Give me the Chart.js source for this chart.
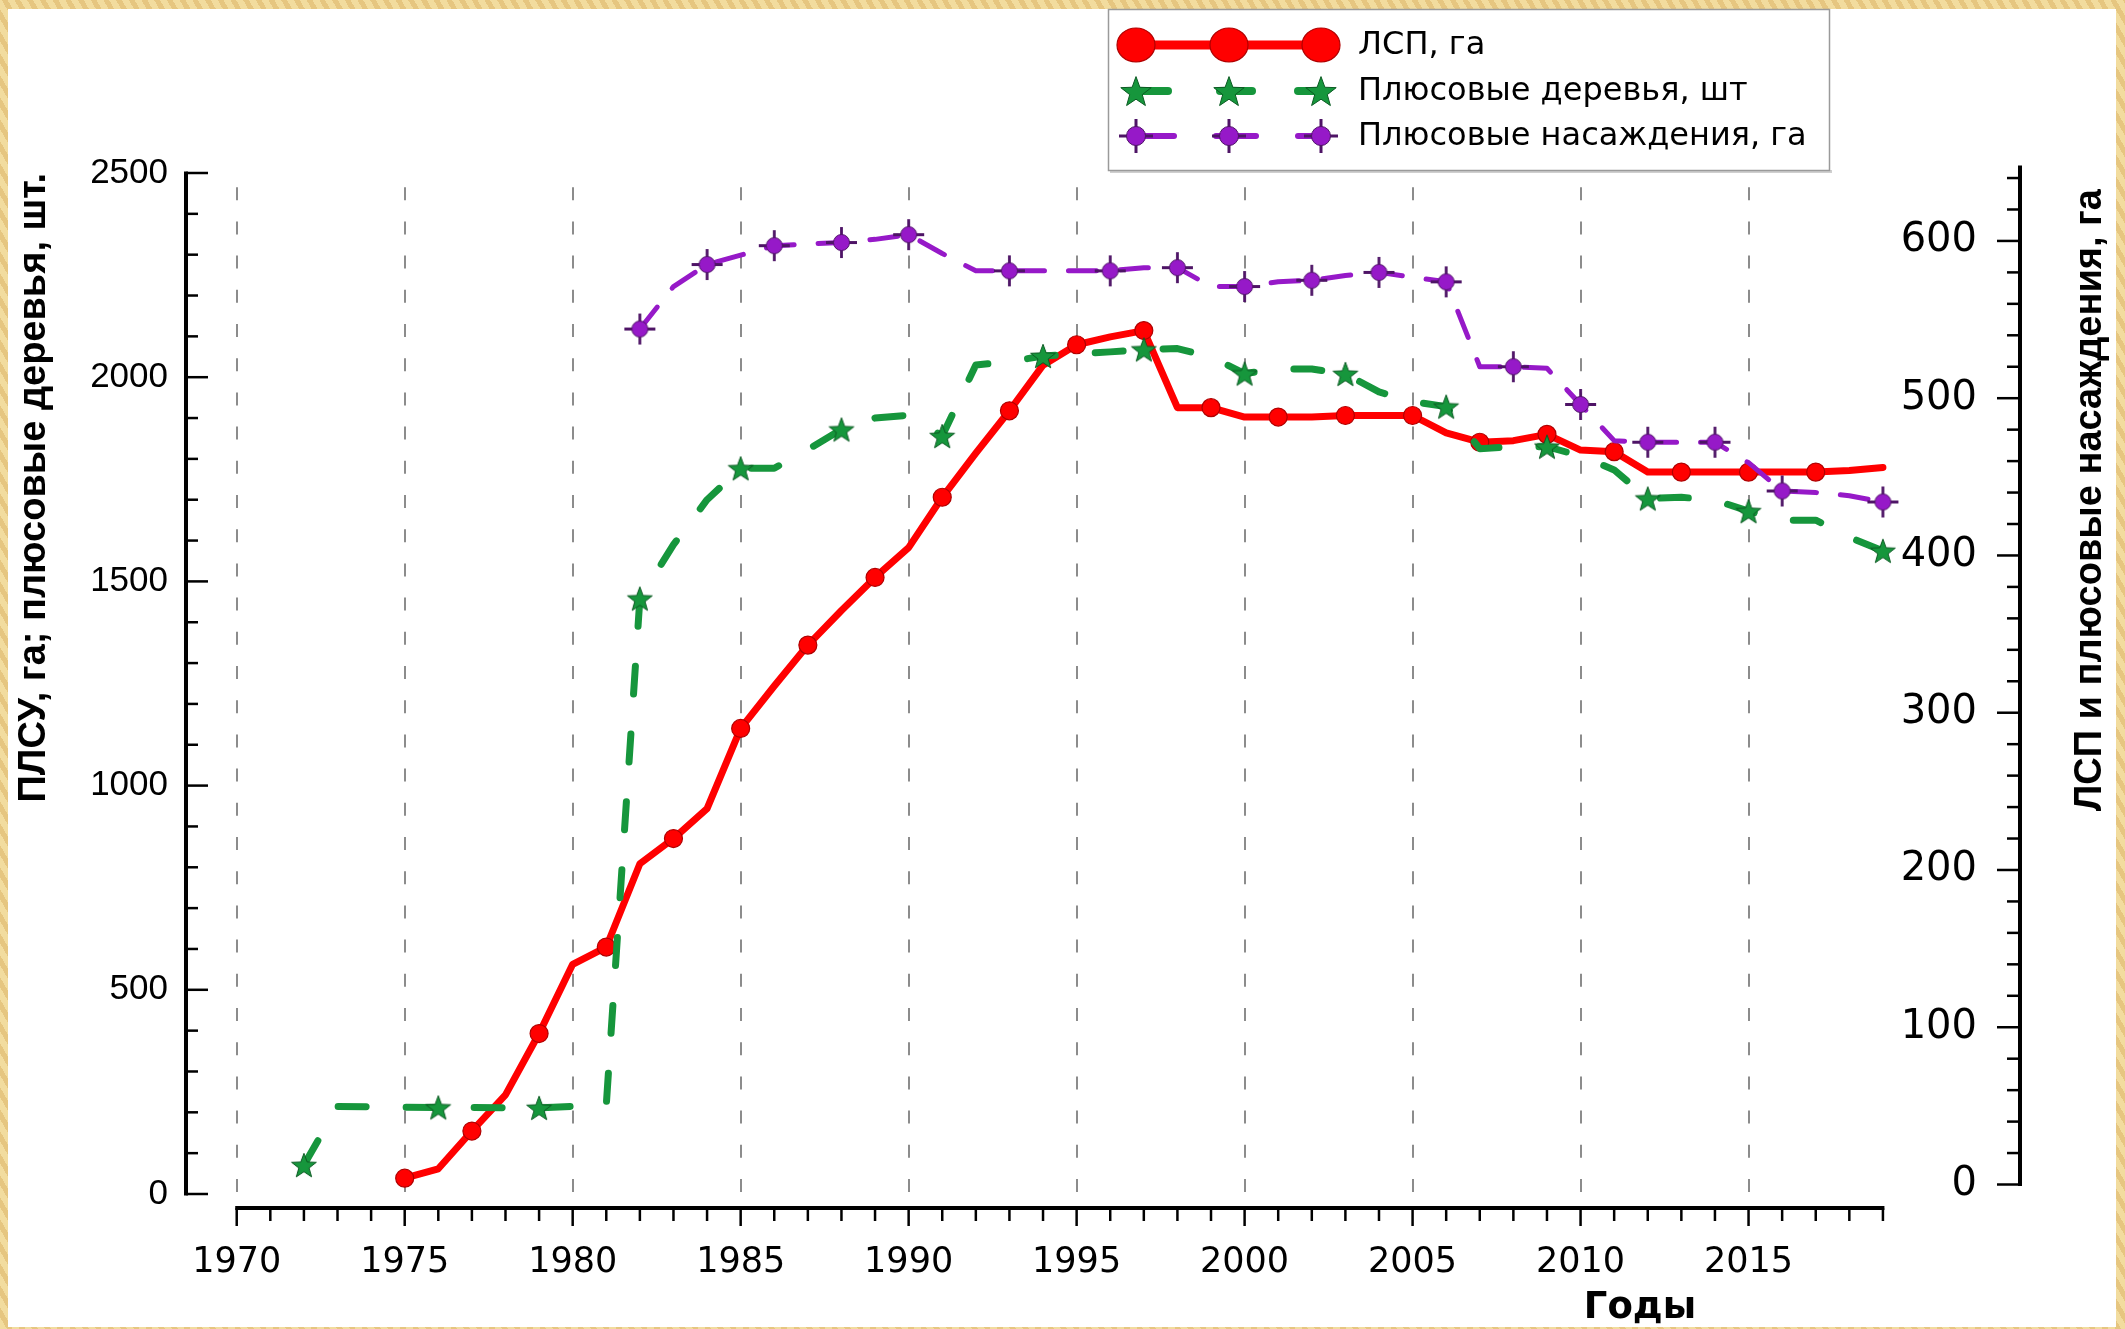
<!DOCTYPE html>
<html>
<head>
<meta charset="utf-8">
<script src="https://cdn.jsdelivr.net/npm/chart.js@4.4.1/dist/chart.umd.min.js"></script>
<style>
html,body{margin:0;padding:0;width:2125px;height:1329px;overflow:hidden;}
body{background:repeating-linear-gradient(60deg,#F2DC9E 0px,#F2DC9E 6px,#E6C680 6px,#E6C680 11px);}
#panel{position:absolute;left:8px;top:9px;width:2108px;height:1318px;background:#ffffff;}
#wrap{position:absolute;left:0;top:0;width:2125px;height:1329px;}
canvas{display:block;}
</style>
</head>
<body>
<div id="panel"></div>
<div id="wrap"><canvas id="c" width="2125" height="1329"></canvas></div>
<script>
// ---------------- DATA ----------------
const seriesNames = ['ЛСП, га', 'Плюсовые деревья, шт', 'Плюсовые насаждения, га'];
const leftTitle = 'ПЛСУ, га; плюсовые деревья, шт.';
const rightTitle = 'ЛСП и плюсовые насаждения, га';
const xTitle = 'Годы';

const xTickYears = [1970, 1975, 1980, 1985, 1990, 1995, 2000, 2005, 2010, 2015];
const leftTicks = [0, 500, 1000, 1500, 2000, 2500];
const rightTicks = [0, 100, 200, 300, 400, 500, 600];

// ЛСП, га (right axis)
const redYears = [1975,1976,1977,1978,1979,1980,1981,1982,1983,1984,1985,1986,1987,1988,1989,1990,1991,1992,1993,1994,1995,1996,1997,1998,1999,2000,2001,2002,2003,2004,2005,2006,2007,2008,2009,2010,2011,2012,2013,2014,2015,2016,2017,2018,2019];
const redValues = [4,10,34,57,96,140,151,204,220,239,290,317,343,365,386,405,437,465,492,521,534,539,543,494,494,488,488,488,489,489,489,478,472,473,477,467,466,453,453,453,453,453,453,454,456];
const redMarkerYears = [1975,1977,1979,1981,1983,1985,1987,1989,1991,1993,1995,1997,1999,2001,2003,2005,2007,2009,2011,2013,2015,2017];

// Плюсовые деревья, шт (left axis)
const greenYears = [1972,1973,1976,1979,1981,1982,1983,1984,1985,1986,1987,1988,1989,1990,1991,1992,1993,1994,1995,1996,1997,1998,1999,2000,2001,2002,2003,2004,2005,2006,2007,2008,2009,2010,2011,2012,2013,2014,2015,2016,2017,2018,2019];
const greenValues = [71,214,212,211,218,1458,1590,1700,1777,1777,1823,1872,1900,1907,1856,2030,2038,2052,2057,2062,2068,2070,2050,2009,2020,2020,2008,1964,1940,1928,1825,1830,1830,1807,1773,1703,1706,1699,1672,1650,1650,1608,1575];
const greenMarkerYears = [1972,1976,1979,1982,1985,1988,1991,1994,1997,2000,2003,2006,2009,2012,2015,2019];

// Плюсовые насаждения, га (right axis)
const purpleYears = [1982,1983,1984,1985,1986,1987,1988,1989,1990,1991,1992,1993,1994,1995,1996,1997,1998,1999,2000,2001,2002,2003,2004,2005,2006,2007,2008,2009,2010,2011,2012,2013,2014,2015,2016,2017,2018,2019];
const purpleValues = [544,571,585,591,597,598,599,601,604,592,581,581,581,581,581,583,583,571,571,574,575,578,580,577,574,520,520,519,496,473,472,472,472,459,441,440,438,434];
const purpleMarkerYears = [1982,1984,1986,1988,1990,1993,1996,1998,2000,2002,2004,2006,2008,2010,2012,2014,2016,2019];

// ---------------- STYLE ----------------
const RED = '#FF0000', RED_DARK = '#B00000';
const GREEN = '#16963C', GREEN_DARK = '#0B5A22';
const PURPLE = '#9619C8', PURPLE_DARK = '#4E1466';

function makeStar(R, r, fill, stroke) {
  const s = Math.ceil(R * 2 + 4);
  const c = document.createElement('canvas');
  c.width = s; c.height = s;
  const g = c.getContext('2d');
  g.translate(s / 2, s / 2 + R * 0.1);
  g.beginPath();
  for (let i = 0; i < 10; i++) {
    const a = -Math.PI / 2 + i * Math.PI / 5;
    const rr = (i % 2) ? r : R;
    g.lineTo(rr * Math.cos(a), rr * Math.sin(a));
  }
  g.closePath();
  g.fillStyle = fill; g.fill();
  g.lineWidth = 1; g.strokeStyle = stroke; g.stroke();
  return c;
}
function makeCrossDot(rc, arm, lw, fill, stroke) {
  const s = Math.ceil(arm * 2 + 4);
  const c = document.createElement('canvas');
  c.width = s; c.height = s;
  const g = c.getContext('2d');
  g.translate(s / 2, s / 2);
  g.strokeStyle = stroke; g.lineWidth = lw;
  g.beginPath(); g.moveTo(-arm, 0); g.lineTo(arm, 0); g.moveTo(0, -arm); g.lineTo(0, arm); g.stroke();
  g.beginPath(); g.arc(0, 0, rc, 0, Math.PI * 2);
  g.fillStyle = fill; g.fill();
  g.lineWidth = 1; g.strokeStyle = stroke; g.stroke();
  return c;
}
const starImg = makeStar(13, 5.4, GREEN, GREEN_DARK);
const crossImg = makeCrossDot(8, 15.5, 2.8, PURPLE, PURPLE_DARK);

function markerRadius(list, r) {
  return (ctx) => (ctx.raw && list.includes(ctx.raw.x)) ? r : 0;
}

const redPts = redYears.map((y, i) => ({x: y, y: redValues[i]}));
const greenPts = greenYears.map((y, i) => ({x: y, y: greenValues[i]}));
const purplePts = purpleYears.map((y, i) => ({x: y, y: purpleValues[i]}));

// ---------------- PLUGINS ----------------
const originAxes = {
  id: 'originAxes',
  afterDraw(chart) {
    const {ctx, chartArea: a, scales} = chart;
    const x = scales.x, yL = scales.yL, yR = scales.yR;
    const L = (x1, y1, x2, y2) => { ctx.beginPath(); ctx.moveTo(x1, y1); ctx.lineTo(x2, y2); ctx.stroke(); };
    ctx.save();
    ctx.strokeStyle = '#000';
    ctx.lineCap = 'butt';
    // left axis
    const lx = a.left - 1;
    ctx.lineWidth = 4;
    L(lx, yL.getPixelForValue(2500) - 1.5, lx, yL.getPixelForValue(0) + 1.5);
    ctx.lineWidth = 2.5;
    for (let v = 0; v <= 2500; v += 100) {
      const py = yL.getPixelForValue(v);
      L(lx, py, lx + (v % 500 === 0 ? 22 : 12), py);
    }
    // right axis
    const rx = a.right;
    ctx.lineWidth = 4;
    L(rx, yR.getPixelForValue(648), rx, yR.getPixelForValue(0) + 1.5);
    ctx.lineWidth = 2.5;
    for (let v = 0; v <= 640; v += 20) {
      const py = yR.getPixelForValue(v);
      L(rx, py, rx - (v % 100 === 0 ? 23 : 13), py);
    }
    // x axis
    const by = a.bottom + 14;
    ctx.lineWidth = 4;
    L(x.getPixelForValue(1970) - 1.5, by, x.getPixelForValue(2019) + 1.5, by);
    ctx.lineWidth = 2.5;
    for (let yr = 1970; yr <= 2019; yr++) {
      const px = x.getPixelForValue(yr);
      L(px, by, px, by + (yr % 5 === 0 ? 18 : 13));
    }
    // right title (reads bottom-to-top)
    ctx.fillStyle = '#000';
    ctx.save();
    ctx.translate(2091, 189);
    ctx.rotate(-Math.PI / 2);
    ctx.textAlign = 'right';
    ctx.textBaseline = 'middle';
    ctx.font = 'bold 38px "Liberation Sans", Arial, sans-serif';
    ctx.fillText(rightTitle, 0, 0);
    ctx.restore();
    // x title
    ctx.font = 'bold 37px "DejaVu Sans", sans-serif';
    ctx.textAlign = 'center';
    ctx.textBaseline = 'alphabetic';
    ctx.fillText(xTitle, 1640, 1318);
    ctx.restore();
  }
};

const boxLegend = {
  id: 'boxLegend',
  afterDraw(chart) {
    const ctx = chart.ctx;
    ctx.save();
    // shadow + box
    ctx.fillStyle = '#cfcfcf';
    ctx.fillRect(1110, 170, 722, 3);
    ctx.fillStyle = '#ffffff';
    ctx.fillRect(1108, 9, 722, 162);
    ctx.strokeStyle = '#9a9a9a';
    ctx.lineWidth = 1.5;
    ctx.strokeRect(1108.5, 9.5, 721, 161);
    const xs = [1136, 1229, 1321];
    const rows = [45, 91, 136];
    // row 1: red
    ctx.strokeStyle = RED; ctx.lineWidth = 9; ctx.lineCap = 'butt';
    ctx.beginPath(); ctx.moveTo(xs[0], rows[0]); ctx.lineTo(xs[2], rows[0]); ctx.stroke();
    xs.forEach(px => {
      ctx.beginPath(); ctx.ellipse(px, rows[0], 19, 17, 0, 0, Math.PI * 2);
      ctx.fillStyle = RED; ctx.fill(); ctx.lineWidth = 1.2; ctx.strokeStyle = RED_DARK; ctx.stroke();
    });
    // row 2: green
    ctx.lineCap = 'round';
    ctx.strokeStyle = GREEN; ctx.lineWidth = 8;
    [[1136, 1168], [1220, 1252], [1298, 1321]].forEach(s => {
      ctx.beginPath(); ctx.moveTo(s[0], rows[1]); ctx.lineTo(s[1], rows[1]); ctx.stroke();
    });
    const bigStar = makeStar(16, 6.6, GREEN, GREEN_DARK);
    xs.forEach(px => ctx.drawImage(bigStar, px - bigStar.width / 2, rows[1] - bigStar.height / 2));
    // row 3: purple
    ctx.strokeStyle = PURPLE; ctx.lineWidth = 6;
    [[1136, 1174], [1216, 1256], [1298, 1321]].forEach(s => {
      ctx.beginPath(); ctx.moveTo(s[0], rows[2]); ctx.lineTo(s[1], rows[2]); ctx.stroke();
    });
    const bigCross = makeCrossDot(9.5, 17, 3, PURPLE, PURPLE_DARK);
    xs.forEach(px => ctx.drawImage(bigCross, px - bigCross.width / 2, rows[2] - bigCross.height / 2));
    // texts
    ctx.fillStyle = '#000';
    ctx.font = '32px "DejaVu Sans", sans-serif';
    ctx.textAlign = 'left';
    ctx.textBaseline = 'middle';
    seriesNames.forEach((t, i) => ctx.fillText(t, 1358, rows[i] + 1));
    ctx.restore();
  }
};

// ---------------- CHART ----------------
Chart.defaults.font.family = '"Liberation Sans", Arial, sans-serif';
Chart.defaults.color = '#000';

new Chart(document.getElementById('c'), {
  type: 'line',
  data: {
    datasets: [
      {
        label: seriesNames[0], data: redPts, yAxisID: 'yR', order: 3,
        borderColor: RED, borderWidth: 7, borderJoinStyle: 'round', borderCapStyle: 'round',
        tension: 0, fill: false,
        pointStyle: 'circle', pointRadius: markerRadius(redMarkerYears, 9),
        pointBackgroundColor: RED, pointBorderColor: RED_DARK, pointBorderWidth: 1.2,
        pointHoverRadius: 0
      },
      {
        label: seriesNames[1], data: greenPts, yAxisID: 'yL', order: 2,
        borderColor: GREEN, borderWidth: 7, borderDash: [28, 40], borderCapStyle: 'round', borderJoinStyle: 'round',
        tension: 0, fill: false,
        pointStyle: starImg, pointRadius: markerRadius(greenMarkerYears, 10),
        pointHoverRadius: 0
      },
      {
        label: seriesNames[2], data: purplePts, yAxisID: 'yR', order: 1,
        borderColor: PURPLE, borderWidth: 5, borderDash: [28, 24], borderCapStyle: 'round', borderJoinStyle: 'round',
        tension: 0, fill: false,
        pointStyle: crossImg, pointRadius: markerRadius(purpleMarkerYears, 8),
        pointHoverRadius: 0
      }
    ]
  },
  options: {
    responsive: false,
    animation: false,
    devicePixelRatio: 1,
    layout: {padding: {left: 0, right: 0, top: 173, bottom: 0}},
    plugins: {legend: {display: false}, tooltip: {enabled: false}},
    events: [],
    scales: {
      x: {
        type: 'linear', position: 'bottom',
        min: 1968.52, max: 2023.08,
        afterBuildTicks: (s) => { s.ticks = xTickYears.map(v => ({value: v})); },
        afterFit: (s) => { s.height = 135; },
        grid: {display: true, drawTicks: false, drawOnChartArea: true, color: '#8c8c8c', lineWidth: 2},
        border: {display: false, dash: [13, 21.2], dashOffset: 20},
        ticks: {autoSkip: false, maxRotation: 0, padding: 48, color: '#000',
                font: {family: '"DejaVu Sans", sans-serif', size: 35},
                callback: (v) => String(v)}
      },
      yL: {
        type: 'linear', position: 'left',
        min: 0, max: 2500,
        afterBuildTicks: (s) => { s.ticks = leftTicks.map(v => ({value: v})); },
        afterFit: (s) => { s.width = 187; },
        grid: {display: false, drawTicks: false},
        border: {display: false},
        ticks: {autoSkip: false, padding: 19, color: '#000',
                font: {family: '"Liberation Sans", Arial, sans-serif', size: 35},
                callback: (v) => String(v)},
        title: {display: true, text: leftTitle, align: 'end', color: '#000',
                font: {family: '"Liberation Sans", Arial, sans-serif', size: 38, weight: 'bold'},
                padding: {top: 12, bottom: 0}}
      },
      yR: {
        type: 'linear', position: 'right',
        min: -6.04, max: 643.2,
        afterBuildTicks: (s) => { s.ticks = rightTicks.map(v => ({value: v})); },
        afterFit: (s) => { s.width = 105; },
        grid: {display: false, drawTicks: false},
        border: {display: false},
        ticks: {autoSkip: false, mirror: true, padding: -43, color: '#000',
                font: {family: '"DejaVu Sans", sans-serif', size: 40},
                callback: (v) => String(v)}
      }
    }
  },
  plugins: [originAxes, boxLegend]
});
</script>
</body>
</html>
